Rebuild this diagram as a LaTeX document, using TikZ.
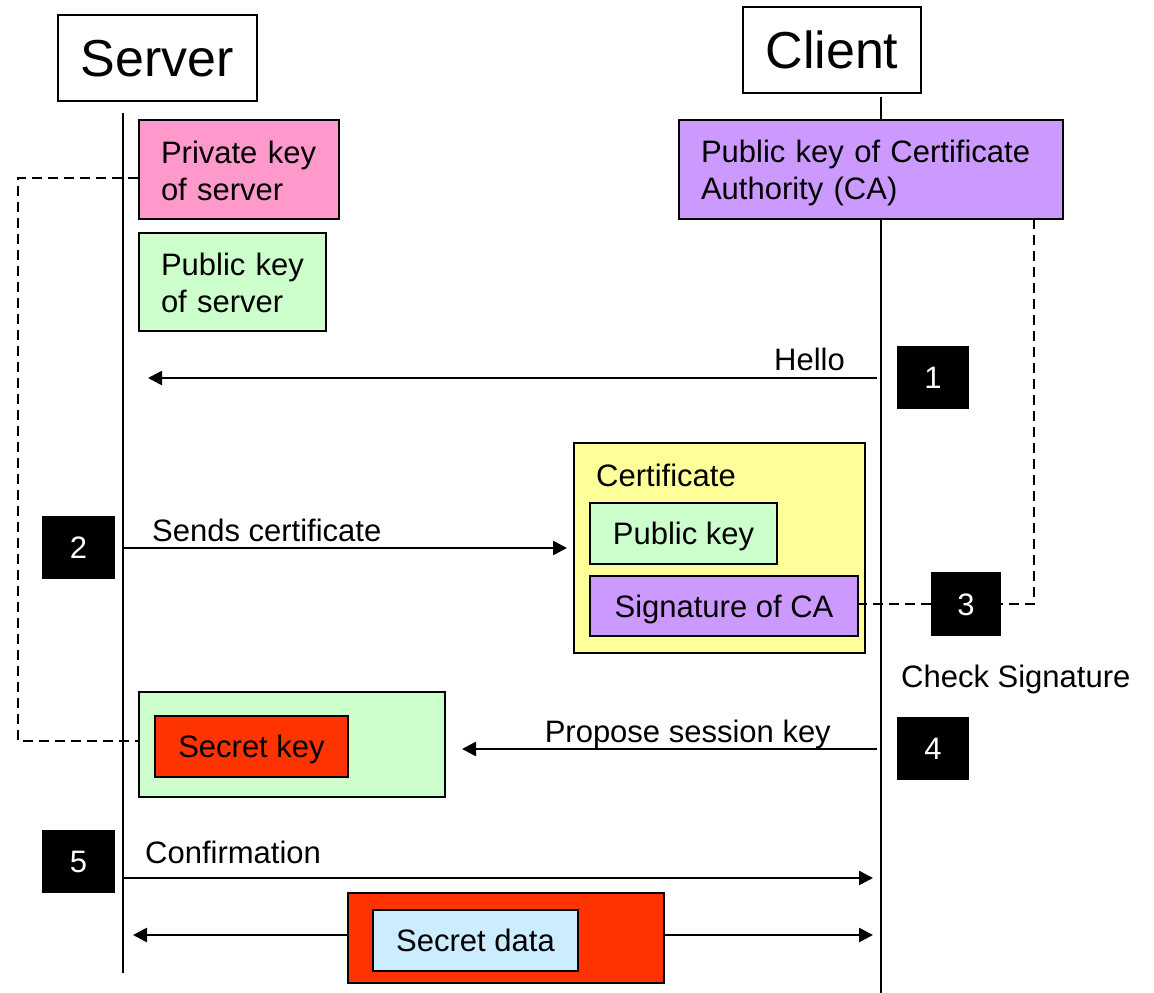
\documentclass[tikz,border=0pt]{standalone}
\usepackage{fontspec}
\setmainfont{Liberation Sans}
\usetikzlibrary{arrows.meta}
\definecolor{cpink}{HTML}{FF99CC}
\definecolor{cgreen}{HTML}{CCFFCC}
\definecolor{cpurple}{HTML}{CC99FF}
\definecolor{cyellow}{HTML}{FFFF99}
\definecolor{cred}{HTML}{FF3300}
\definecolor{cblue}{HTML}{CCECFF}
\newcommand{\fsn}{\fontsize{31}{37}\selectfont}
\newcommand{\fsb}{\fontsize{52}{60}\selectfont}
\tikzset{
  box/.style={draw, line width=2.6pt, inner sep=0pt, font=\fsn, rectangle, text height=22.5pt, text depth=0pt},
  lbox/.style={draw, line width=2.6pt, font=\fsn, rectangle, align=left, inner xsep=22pt, inner ysep=0pt},
  title/.style={draw, line width=2.6pt, inner sep=0pt, font=\fsb, fill=white, text height=37.5pt, text depth=0pt},
  badge/.style={fill=black, text=white, inner sep=0pt, font=\fsn, text height=22pt, text depth=0pt},
  lbl/.style={font=\fsn, inner sep=0pt},
  life/.style={line width=2.6pt},
  msg/.style={line width=2.6pt, -{Triangle[length=14pt,width=14pt]}},
  dashln/.style={line width=2.8pt, dash pattern=on 10pt off 6pt},
}
\begin{document}
\begin{tikzpicture}[x=1pt,y=-1pt]
\useasboundingbox (0,0) rectangle (1154,993);
% lifelines
\coordinate (sTop) at (123,113);
\coordinate (sBot) at (123,973);
\coordinate (cTop) at (881,97);
\coordinate (cBot) at (881,993);
\draw[life] (sTop) -- (sBot);
\draw[life] (cTop) -- (cBot);
% titles
\node[title, minimum width=199pt, minimum height=86pt] (server) at (157.5,58) {Server};
\node[title, minimum width=178pt, minimum height=86pt] (client) at (832,50) {Client};
% server keys
\node[lbox, fill=cpink, minimum width=200pt, minimum height=99pt, text width=156pt] (priv) at (239,169.5) {\mbox{\rule{0pt}{25pt}Private key}\\\mbox{of server}};
\node[lbox, fill=cgreen, minimum width=187pt, minimum height=98pt, text width=143pt] (pubs) at (232.5,282) {\mbox{\rule{0pt}{25pt}Public key}\\\mbox{of server}};
% CA key
\node[lbox, fill=cpurple, minimum width=384pt, minimum height=99pt, text width=340pt] (ca) at (871,169.5) {\mbox{\rule{0pt}{30pt}Public key of Certificate}\\\mbox{Authority (CA)}};
% Hello
\coordinate (h1) at (877,378);
\coordinate (h2) at (148,378);
\draw[msg] (h1) -- (h2);
\node[lbl, anchor=base east] (hello) at (845,370) {Hello};
\node[badge, minimum width=72pt, minimum height=63pt] (b1) at (933,377.5) {1};
% certificate
\node[box, fill=cyellow, minimum width=291pt, minimum height=210pt] (cert) at (719.5,548) {};
\node[lbl, anchor=base west] (certl) at (596,486) {Certificate};
\node[box, fill=cgreen, minimum width=187pt, minimum height=61pt] (certpk) at (683.5,533.5) {Public key};
\node[box, fill=cpurple, minimum width=268pt, minimum height=60pt] (sig) at (724,606) {Signature of CA};
\node[badge, minimum width=73pt, minimum height=63pt] (b2) at (78.5,547.5) {2};
\coordinate (c1) at (123,548);
\coordinate (c2) at (567,548);
\draw[msg] (c1) -- (c2);
\node[lbl, anchor=base west] (sendl) at (152,541) {Sends certificate};
% check signature
\node[badge, minimum width=70pt, minimum height=64pt] (b3) at (966,604) {3};
\node[lbl, anchor=base west] (chk) at (901,687) {Check Signature};
\coordinate (caCorner) at (1034,219);
\draw[dashln] (caCorner) |- (b3.east);
\draw[dashln] (b3.west) -- (sig.east |- b3.west);
% session key
\node[box, fill=cgreen, minimum width=306pt, minimum height=105pt] (sessbox) at (292,744.5) {};
\node[box, fill=cred, minimum width=193pt, minimum height=61pt] (seck) at (251.5,746.5) {Secret key};
\coordinate (p1) at (877,749);
\coordinate (p2) at (462,749);
\draw[msg] (p1) -- (p2);
\node[lbl, anchor=base east] (propl) at (831,742) {Propose session key};
\node[badge, minimum width=72pt, minimum height=63pt] (b4) at (933,748.5) {4};
% private key dashed link
\coordinate (dl1) at (18,178);
\coordinate (dl2) at (18,741);
\draw[dashln] (priv.west |- dl1) -- (dl1) -- (dl2) -- (sessbox.west |- dl2);
% confirmation
\node[badge, minimum width=73pt, minimum height=63pt] (b5) at (78.5,861.5) {5};
\coordinate (f1) at (123,878);
\coordinate (f2) at (873,878);
\draw[msg] (f1) -- (f2);
\node[lbl, anchor=base west] (confl) at (145,863) {Confirmation};
% secret data
\node[box, fill=cred, minimum width=316pt, minimum height=90pt] (dbox) at (506,938) {};
\node[box, fill=cblue, minimum width=205pt, minimum height=61pt] (data) at (475.5,940.5) {Secret data};
\coordinate (d1) at (133,935);
\coordinate (d2) at (873,935);
\draw[msg] (dbox.west |- d1) -- (d1);
\draw[msg] (dbox.east |- d2) -- (d2);
\end{tikzpicture}
\end{document}
